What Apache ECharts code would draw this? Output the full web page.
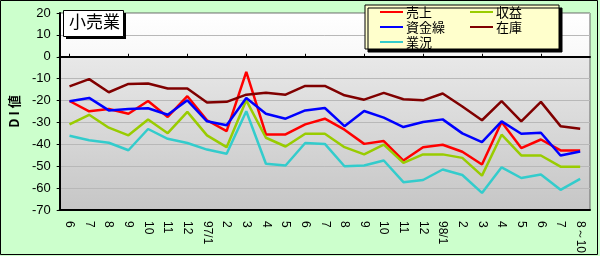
<!DOCTYPE html>
<html><head><meta charset="utf-8">
<script src="https://cdn.jsdelivr.net/npm/echarts@6/dist/echarts.min.js"></script>
<style>html,body{margin:0;padding:0;background:#CCFFCC;}#c{width:600px;height:256px;}</style>
</head><body><div id="c"></div>
<script>
var categories = ['6','7','8','9','10','11','12','97/1','2','3','4','5','6','7','8','9','10','11','12','98/1','2','3','4','5','6','7','8～10'];
var uriage = [-20.2,-24.9,-23.9,-26,-20.2,-27.5,-18,-29,-34,-6.9,-35.5,-35.5,-30.9,-28.3,-33.3,-39.8,-38.5,-47.4,-41.3,-40.2,-43.4,-49.2,-29.8,-41.7,-37.8,-42.8,-42.8];
var shueki = [-30.9,-26.5,-32.4,-35.9,-28.7,-34.9,-25.2,-35.9,-41.3,-19.9,-37,-41,-35.2,-35.2,-41.3,-44.6,-40.1,-48.5,-44.6,-44.6,-46.2,-54.3,-35.6,-45.1,-45.1,-50.2,-50.2];
var shikinguri = [-20.3,-18.8,-24.5,-23.9,-23.5,-26.5,-19.9,-29.5,-31.3,-18.8,-26,-28.3,-24.5,-23.4,-31.7,-24.8,-27.8,-32.1,-29.8,-28.6,-35,-39,-29.5,-35.2,-34.7,-45.1,-43.3];
var zaiko = [-13.5,-10.2,-16.2,-12.4,-12.2,-14.5,-14.5,-20.9,-20.6,-17.3,-16.4,-17.3,-13.3,-13.3,-17.6,-19.6,-16.5,-19.4,-19.9,-16.8,-22.7,-29,-20.3,-29.5,-20.6,-31.7,-32.9];
var gyokyo = [-36.1,-38.1,-39.3,-42.7,-33,-37.5,-39.4,-42.4,-44.3,-24.9,-48.9,-49.7,-39.4,-39.8,-50,-49.7,-47.4,-57.3,-56.3,-51.5,-54,-62.2,-50.5,-55.4,-53.8,-60.8,-55.8];

var chart = echarts.init(document.getElementById('c'), null, {renderer:'canvas'});
function line(name, data, color){
  return {name:name, type:'line', data:data, symbol:'none', xAxisIndex:0,
    lineStyle:{color:color, width:2.5}, itemStyle:{color:color}, animation:false};
}
var font = 'Liberation Sans';
var legendText = {fontFamily:'Noto Sans CJK JP', fontSize:13, color:'#000', padding:[0,0,0,-2], lineHeight:14};
chart.setOption({
  animation:false,
  backgroundColor:'#CCFFCC',
  grid:{left:48, right:10, top:13, bottom:46, show:true, borderColor:'#666', borderWidth:1,
    backgroundColor:{type:'linear', x:0, y:0, x2:0, y2:1, colorStops:[
      {offset:0, color:'#ffffff'},{offset:0.222, color:'#f8f8f8'},{offset:0.224, color:'#e8e8e8'},{offset:1, color:'#c6c6c6'}]}},
  xAxis:[{type:'category', data:categories, boundaryGap:true, position:'bottom',
      axisLine:{onZero:false, lineStyle:{color:'#000', width:2}},
      axisTick:{show:false},
      axisLabel:{rotate:-90, color:'#000', fontFamily:font, fontSize:12, margin:11, interval:0}},
    {type:'category', data:categories, boundaryGap:true, position:'top',
      axisLine:{onZero:true, lineStyle:{color:'#000', width:2}},
      axisTick:{show:true, alignWithLabel:true, inside:false, length:3, lineStyle:{color:'#000'}},
      axisLabel:{show:false}}],
  yAxis:{type:'value', min:-70, max:20, interval:10,
    name:'D I 値', nameLocation:'middle', nameRotate:90, nameGap:36,
    nameTextStyle:{color:'#000', fontFamily:'Noto Sans CJK JP', fontSize:13, fontWeight:'bold'},
    axisLine:{show:true, lineStyle:{color:'#000', width:2}},
    axisTick:{show:true, length:3, lineStyle:{color:'#000'}},
    axisLabel:{color:'#000', fontFamily:font, fontSize:13, margin:9},
    splitLine:{show:true, lineStyle:{color:'#b8b8b8', width:1}}},
  legend:[{orient:'vertical', left:365, top:5, z:100, itemWidth:23, itemHeight:2, itemGap:1, icon:'rect',
      padding:[0,114,0,15], backgroundColor:'#FFFFCC', borderColor:'#000', borderWidth:1,
      shadowColor:'#000', shadowOffsetX:3, shadowOffsetY:3, shadowBlur:0,
      data:['売上','資金繰','業況'], textStyle:legendText},
    {orient:'vertical', left:470, top:5, z:110, itemWidth:23, itemHeight:2, itemGap:1, icon:'rect',
      padding:0, data:['収益','在庫'], textStyle:legendText}],
  graphic:{elements:[
    {type:'rect', id:'outer', z:-1, shape:{x:0.5, y:0.5, width:597, height:254}, style:{fill:'none', stroke:'#000', lineWidth:1}},
    {type:'rect', id:'tsh', z:150, shape:{x:66, y:13, width:60, height:26}, style:{fill:'#000'}},
    {type:'rect', id:'tbox', z:151, shape:{x:63.5, y:10.5, width:60, height:26}, style:{fill:'#fff', stroke:'#000', lineWidth:1}},
    {type:'text', id:'ttxt', z:152, left:69, top:13, style:{text:'小売業', font:'17px "Noto Sans CJK JP"', fill:'#000'}}
  ]},
  series:[
    line('売上', uriage, '#FF0000'),
    line('収益', shueki, '#99CC00'),
    line('資金繰', shikinguri, '#0000FF'),
    line('在庫', zaiko, '#800000'),
    line('業況', gyokyo, '#33CCCC')
  ]
});
</script></body></html>
